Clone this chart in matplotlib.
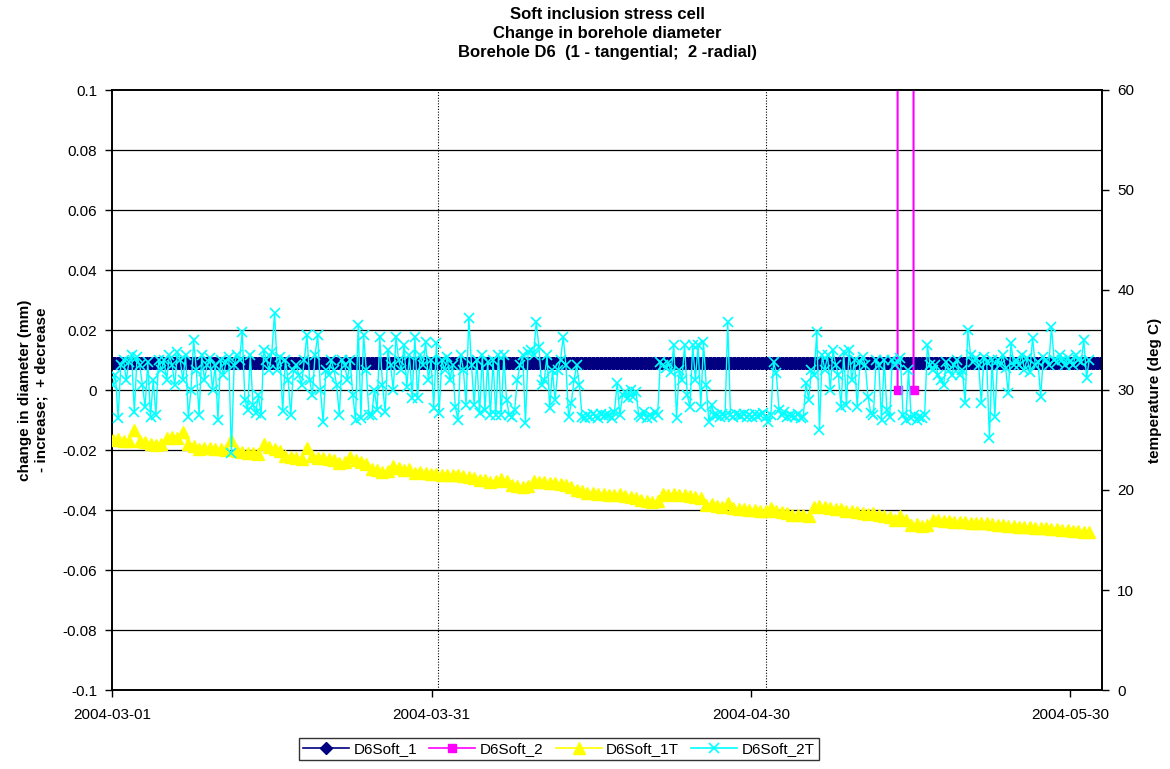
import matplotlib
matplotlib.use("Agg")
import matplotlib.pyplot as plt
import matplotlib.dates as mdates
from matplotlib.lines import Line2D
import numpy as np
import pandas as pd

plt.rcParams['font.family'] = ['Liberation Sans', 'DejaVu Sans']

# ---------------- data ----------------
title = "Soft inclusion stress cell\nChange in borehole diameter\nBorehole D6  (1 - tangential;  2 -radial)"
left_label = "change in diameter (mm)\n- increase;  + decrease"
right_label = "temperature (deg C)"
x_tick_dates = ["2004-03-01", "2004-03-31", "2004-04-30", "2004-05-30"]
left_ticks = [-0.1, -0.08, -0.06, -0.04, -0.02, 0, 0.02, 0.04, 0.06, 0.08, 0.1]
left_tick_labels = ["-0.1", "-0.08", "-0.06", "-0.04", "-0.02", "0", "0.02", "0.04", "0.06", "0.08", "0.1"]
right_ticks = [0, 10, 20, 30, 40, 50, 60]
v_grid_dates = ["2004-03-31 14:00", "2004-05-01 10:00"]

# D6Soft_1 (constant reading)
d6soft_1_times = pd.date_range("2004-03-01 01:00", "2004-06-01 19:00", freq="3h")
d6soft_1 = [0.009] * len(d6soft_1_times)

# D6Soft_2 (only a short burst, off-scale in between)
d6soft_2_times = pd.to_datetime(["2004-05-13 19:00", "2004-05-13 20:00",
                                 "2004-05-15 06:00", "2004-05-15 07:00"])
d6soft_2 = [0.0, 9.9, 9.9, 0.0]

# D6Soft_1T temperature (deg C), two readings per day
d6soft_1t = [
    25.0, 25.1, 24.9, 24.9, 26.0, 24.9, 24.8, 24.6, 24.5, 24.6,
    25.2, 25.3, 25.2, 25.8, 24.6, 24.4, 24.1, 24.2, 24.2, 24.1,
    24.1, 24.0, 25.0, 23.9, 23.8, 23.7, 23.7, 23.6, 24.6, 24.3,
    24.1, 23.9, 23.4, 23.3, 23.2, 23.1, 24.2, 23.4, 23.2, 23.2,
    23.1, 23.0, 22.7, 22.8, 23.3, 23.0, 22.8, 22.6, 22.1, 22.0,
    21.8, 21.9, 22.4, 22.2, 22.0, 22.1, 21.7, 21.8, 21.7, 21.6,
    21.6, 21.5, 21.5, 21.5, 21.5, 21.4, 21.3, 21.2, 21.0, 21.0,
    20.8, 20.9, 21.1, 20.9, 20.5, 20.4, 20.3, 20.4, 20.9, 20.8,
    20.8, 20.7, 20.7, 20.6, 20.5, 20.3, 20.0, 19.9, 19.7, 19.7,
    19.6, 19.6, 19.5, 19.5, 19.6, 19.4, 19.3, 19.2, 19.0, 18.9,
    18.8, 18.9, 19.6, 19.5, 19.6, 19.5, 19.5, 19.4, 19.3, 19.2,
    18.5, 18.6, 18.4, 18.3, 18.7, 18.2, 18.1, 18.1, 18.0, 18.0,
    17.9, 17.9, 18.2, 17.9, 17.8, 17.7, 17.5, 17.5, 17.5, 17.4,
    18.3, 18.4, 18.3, 18.2, 18.1, 18.1, 17.9, 17.9, 17.8, 17.7,
    17.6, 17.7, 17.5, 17.4, 17.3, 17.0, 17.4, 17.0, 16.5, 16.6,
    16.4, 16.5, 17.0, 17.0, 16.9, 16.9, 16.8, 16.8, 16.8, 16.7,
    16.7, 16.7, 16.7, 16.6, 16.5, 16.5, 16.4, 16.4, 16.3, 16.3,
    16.3, 16.2, 16.2, 16.2, 16.1, 16.1, 16.0, 16.0, 15.9, 15.9,
    15.8, 15.8,
]
d6soft_1t_times = pd.date_range("2004-03-01 01:00", periods=len(d6soft_1t), freq="730min")

# D6Soft_2T temperature (deg C), four readings per day
d6soft_2t = [
    30.5, 31.5, 27.2, 32.5,  33.0, 31.0, 32.8, 33.5,  27.8, 33.3, 32.5, 30.5,
    28.3, 32.8, 27.3, 31.0,  27.5, 33.0, 32.0, 33.0,  31.0, 33.5, 32.5, 30.5,
    33.8, 33.0, 31.0, 33.5,  27.3, 30.0, 35.0, 32.0,  27.5, 33.5, 31.0, 32.5,
    33.2, 30.0, 32.5, 27.0,  33.0, 31.5, 32.8, 33.3,  23.7, 32.5, 33.5, 33.0,
    35.8, 29.0, 28.0, 33.5,  28.5, 27.7, 29.5, 27.5,  34.0, 33.0, 32.0, 33.8,
    37.7, 32.0, 33.3, 27.9,  33.0, 31.0, 27.5, 32.0,  32.5, 31.5, 30.5, 33.0,
    35.5, 31.0, 29.5, 33.5,  35.5, 30.0, 26.8, 32.0,  31.5, 33.0, 32.0, 30.5,
    27.5, 33.0, 32.5, 31.0,  33.0, 29.5, 27.0, 36.5,  27.2, 35.5, 32.0, 27.5,
    27.5, 30.0, 28.0, 35.3,  30.5, 27.8, 34.0, 32.5,  30.0, 35.3, 33.0, 32.0,
    34.5, 30.3, 33.5, 29.2,  35.3, 29.2, 33.5, 32.5,  34.8, 31.0, 33.0, 28.2,
    34.7, 27.7, 33.0, 32.0,  33.3, 31.0, 32.5, 28.3,  27.0, 33.5, 32.0, 28.5,
    37.2, 32.5, 28.5, 33.0,  27.7, 33.5, 28.0, 32.8,  27.5, 33.0, 27.5, 33.5,
    27.5, 33.5, 29.0, 27.5,  27.3, 28.0, 31.0, 32.5,  33.5, 26.7, 33.8, 34.0,
    33.5, 36.8, 34.3, 30.5,  31.0, 33.5, 28.2, 32.0,  29.0, 32.0, 33.0, 35.3,
    32.5, 27.3, 28.7, 31.0,  32.5, 30.5, 27.3, 27.2,  27.5, 27.3, 27.6, 27.4,
    27.2, 27.6, 27.4, 27.5,  27.5, 27.2, 27.8, 30.7,  27.5, 29.5, 29.8, 29.2,
    30.0, 29.3, 29.8, 27.5,  27.3, 27.8, 27.2, 27.5,  27.3, 27.8, 27.5, 32.8,
    32.5, 32.2, 32.7, 31.8,  34.5, 27.2, 32.0, 31.0,  34.5, 29.5, 28.3, 34.5,
    31.0, 34.5, 28.3, 34.8,  30.5, 26.8, 28.5, 27.5,  27.5, 27.3, 27.6, 27.4,
    36.8, 27.5, 27.3, 27.6,  27.5, 27.4, 27.6, 27.3,  27.5, 27.3, 27.6, 27.4,
    27.5, 27.7, 27.3, 26.8,  27.5, 32.8, 31.7, 28.0,  27.5, 27.8, 27.3, 27.5,
    27.4, 27.3, 27.6, 27.2,  27.3, 30.7, 29.0, 32.0,  31.5, 35.8, 26.0, 33.5,
    32.0, 33.5, 30.0, 34.0,  32.5, 31.5, 28.3, 33.8,  28.5, 34.0, 31.0, 33.0,
    28.3, 32.8, 33.3, 32.5,  29.3, 27.7, 27.5, 33.0,  32.5, 27.0, 33.0, 28.0,
    27.3, 33.0, 32.5, 32.8,  33.2, 27.5, 27.0, 32.0,  27.2, 27.5, 27.0, 27.3,
    27.2, 27.5, 34.5, 32.5,  32.0, 32.5, 31.5, 31.0,  30.5, 32.8, 32.0, 31.5,
    32.5, 33.0, 31.5, 32.0,  28.7, 36.0, 33.5, 32.8,  33.2, 32.5, 28.7, 33.3,
    32.8, 25.2, 33.0, 27.3,  33.0, 32.5, 33.5, 32.2,  29.7, 34.7, 32.5, 33.0,
    32.5, 33.5, 32.0, 33.2,  31.8, 35.2, 32.5, 32.8,  29.3, 33.3, 33.0, 32.5,
    36.3, 33.0, 32.8, 33.5,  33.0, 32.5, 33.2, 32.8,  32.5, 33.5, 33.0, 32.8,
    35.0, 31.2, 33.0,
]
d6soft_2t_times = pd.date_range("2004-03-01 01:00", periods=len(d6soft_2t), freq="365min")

# ---------------- figure ----------------
W, H = 1170, 769
fig = plt.figure(figsize=(W / 100, H / 100), dpi=100)
ax = fig.add_axes([112.3 / W, 1 - 690 / H, (1102 - 112.3) / W, 600 / H])
ax2 = ax.twinx()

navy = "#000080"
magenta = "#FF00FF"
yellow = "#FFFF00"
cyan = "#00FFFF"

ax.plot(d6soft_1_times, d6soft_1, color=navy, lw=1, marker="D", ms=6,
        mec=navy, mfc=navy, zorder=3)
ax.plot(d6soft_2_times, d6soft_2, color=magenta, lw=1.5, marker="s", ms=6,
        mec=magenta, mfc=magenta, zorder=4)

ax2.plot(d6soft_1t_times, d6soft_1t, color=yellow, lw=1, marker="^", ms=9,
         mec=yellow, mfc=yellow, zorder=3)
ax2.plot(d6soft_2t_times, d6soft_2t, color=cyan, lw=1, marker="x", ms=7,
         mew=1.2, zorder=4)

xmin = pd.Timestamp("2004-03-01")
xmax = pd.Timestamp("2004-06-02")
ax.set_xlim(xmin, xmax)
ax.set_ylim(-0.1, 0.1)
ax2.set_ylim(0, 60)

ax.set_yticks(left_ticks)
ax.set_yticklabels(left_tick_labels)
ax2.set_yticks(right_ticks)
ax.set_xticks(pd.to_datetime(x_tick_dates))
ax.xaxis.set_major_formatter(mdates.DateFormatter("%Y-%m-%d"))

for a in (ax, ax2):
    a.tick_params(direction="out", length=5, width=1, labelsize=11, colors="black")
ax.tick_params(axis="x", pad=8)
ax.tick_params(axis="y", pad=6)
ax2.tick_params(axis="y", pad=6)

# gridlines
for yv in left_ticks[1:-1]:
    ax.axhline(yv, color="black", lw=0.9, zorder=1)
for d in pd.to_datetime(v_grid_dates):
    ax.axvline(d, color="black", lw=0.8, ls=(0, (1, 1.5)), zorder=1)

for s in ax.spines.values():
    s.set_linewidth(1.2)
for s in ax2.spines.values():
    s.set_linewidth(1.2)

ax.set_ylabel(left_label, fontsize=11, fontweight="bold", labelpad=10)
ax2.set_ylabel(right_label, fontsize=11, fontweight="bold", labelpad=10)
fig.text(0.5 * (112.3 + 1102) / W, 1 - 7 / H, title, ha="center", va="top",
         fontsize=12, fontweight="bold", linespacing=1.35)

handles = [
    Line2D([], [], color=navy, marker="D", ms=6, lw=1.2),
    Line2D([], [], color=magenta, marker="s", ms=6, lw=1.2),
    Line2D([], [], color=yellow, marker="^", ms=8, lw=1.2),
    Line2D([], [], color=cyan, marker="x", ms=7, lw=1.2, mew=1.2),
]
labels = ["D6Soft_1", "D6Soft_2", "D6Soft_1T", "D6Soft_2T"]
leg = fig.legend(handles, labels, loc="center", bbox_to_anchor=(559 / W, 1 - 749 / H),
                 ncol=4, frameon=True, fancybox=False, edgecolor="black",
                 fontsize=11, handlelength=3, columnspacing=0.8, handletextpad=0.3,
                 borderpad=0.25, borderaxespad=0)
leg.get_frame().set_linewidth(1)

fig.savefig("out.png", dpi=100)
